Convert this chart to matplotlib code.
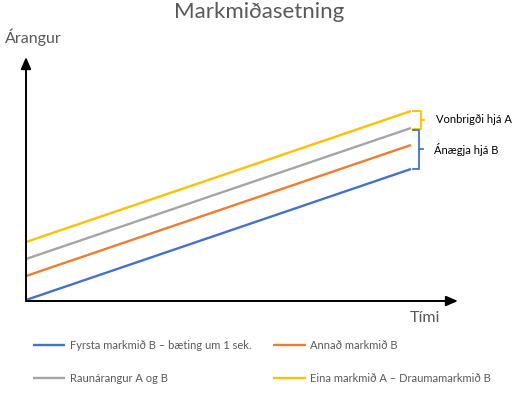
import matplotlib
matplotlib.use("Agg")
import matplotlib.pyplot as plt

plt.rcParams['font.family'] = ['Lato', 'DejaVu Sans']

# Data
time = [0, 10]
series_names = ["Fyrsta markmið B – bæting um 1 sek.", "Annað markmið B",
                "Raunárangur A og B", "Eina markmið A – Draumamarkmið B"]
blue = [0.1, 13.2]
orange = [2.5, 15.6]
gray = [4.2, 17.3]
yellow = [5.9, 19.0]
colors = ["#4472C4", "#ED7D31", "#A5A5A5", "#FFC000"]
bracket_labels = ["Vonbrigði hjá A", "Ánægja hjá B"]

fig = plt.figure(figsize=(5.18, 3.95), dpi=100)
W, H = 518, 395
ax = fig.add_axes([26 / W, 1 - 301 / H, (458 - 26) / W, (301 - 57) / H])
xmax = 10 * 432 / 385
ax.set_xlim(0, xmax)
ax.set_ylim(0, 24.4)
for s in ax.spines.values():
    s.set_visible(False)
ax.set_xticks([])
ax.set_yticks([])
ax.patch.set_alpha(0)

handles = []
for vals, c, name in zip([blue, orange, gray, yellow], colors, series_names):
    ln, = ax.plot(time, vals, color=c, lw=1.7, solid_capstyle='butt')
    handles.append(ln)

# axes arrows
ax.annotate("", xy=(1.0, 0), xytext=(0, 0), xycoords='axes fraction',
            arrowprops=dict(arrowstyle='-|>,head_length=0.7,head_width=0.3', color='black', lw=1.4,
                            shrinkA=0, shrinkB=0))
ax.annotate("", xy=(0, 1.0), xytext=(0, 0), xycoords='axes fraction',
            arrowprops=dict(arrowstyle='-|>,head_length=0.7,head_width=0.3', color='black', lw=1.4,
                            shrinkA=0, shrinkB=0))

# brackets
def bracket(y_top, y_bot, x0, x1, color, label):
    xt = x1 + 0.1
    ax.plot([x0, x1, x1, x0], [y_top, y_top, y_bot, y_bot], color=color, lw=1.3, clip_on=False)
    ym = (y_top + y_bot) / 2
    ax.plot([x1, xt], [ym, ym], color=color, lw=1.3, clip_on=False)
    ax.text(x1 + 0.4, ym, label, ha='left', va='center', fontsize=8, color='black')

bracket(yellow[1], gray[1] - 0.1, 10.05, 10.25, "#FFC000", bracket_labels[0])
bracket(gray[1] - 0.2, blue[1], 10.05, 10.2, "#4472C4", bracket_labels[1])

fig.text(0.5, 1 - 12 / H, "Markmiðasetning", ha='center', va='center', fontsize=16, color='#595959')
fig.text(5 / W, 1 - 37 / H, "Árangur", ha='left', va='center', fontsize=11.5, color='#595959')
fig.text(410 / W, 1 - 318 / H, "Tími", ha='left', va='center', fontsize=11.5, color='#595959')

order = [0, 2, 1, 3]
fig.legend(handles=[handles[i] for i in order],
           labels=[series_names[i] for i in order],
           ncol=2, loc='center', bbox_to_anchor=(262 / W, 1 - 362 / H), frameon=False,
           fontsize=8, labelcolor='#595959', handlelength=2.9, handletextpad=0.4,
           columnspacing=2.0, labelspacing=1.95)

fig.savefig("out.png", dpi=100)
